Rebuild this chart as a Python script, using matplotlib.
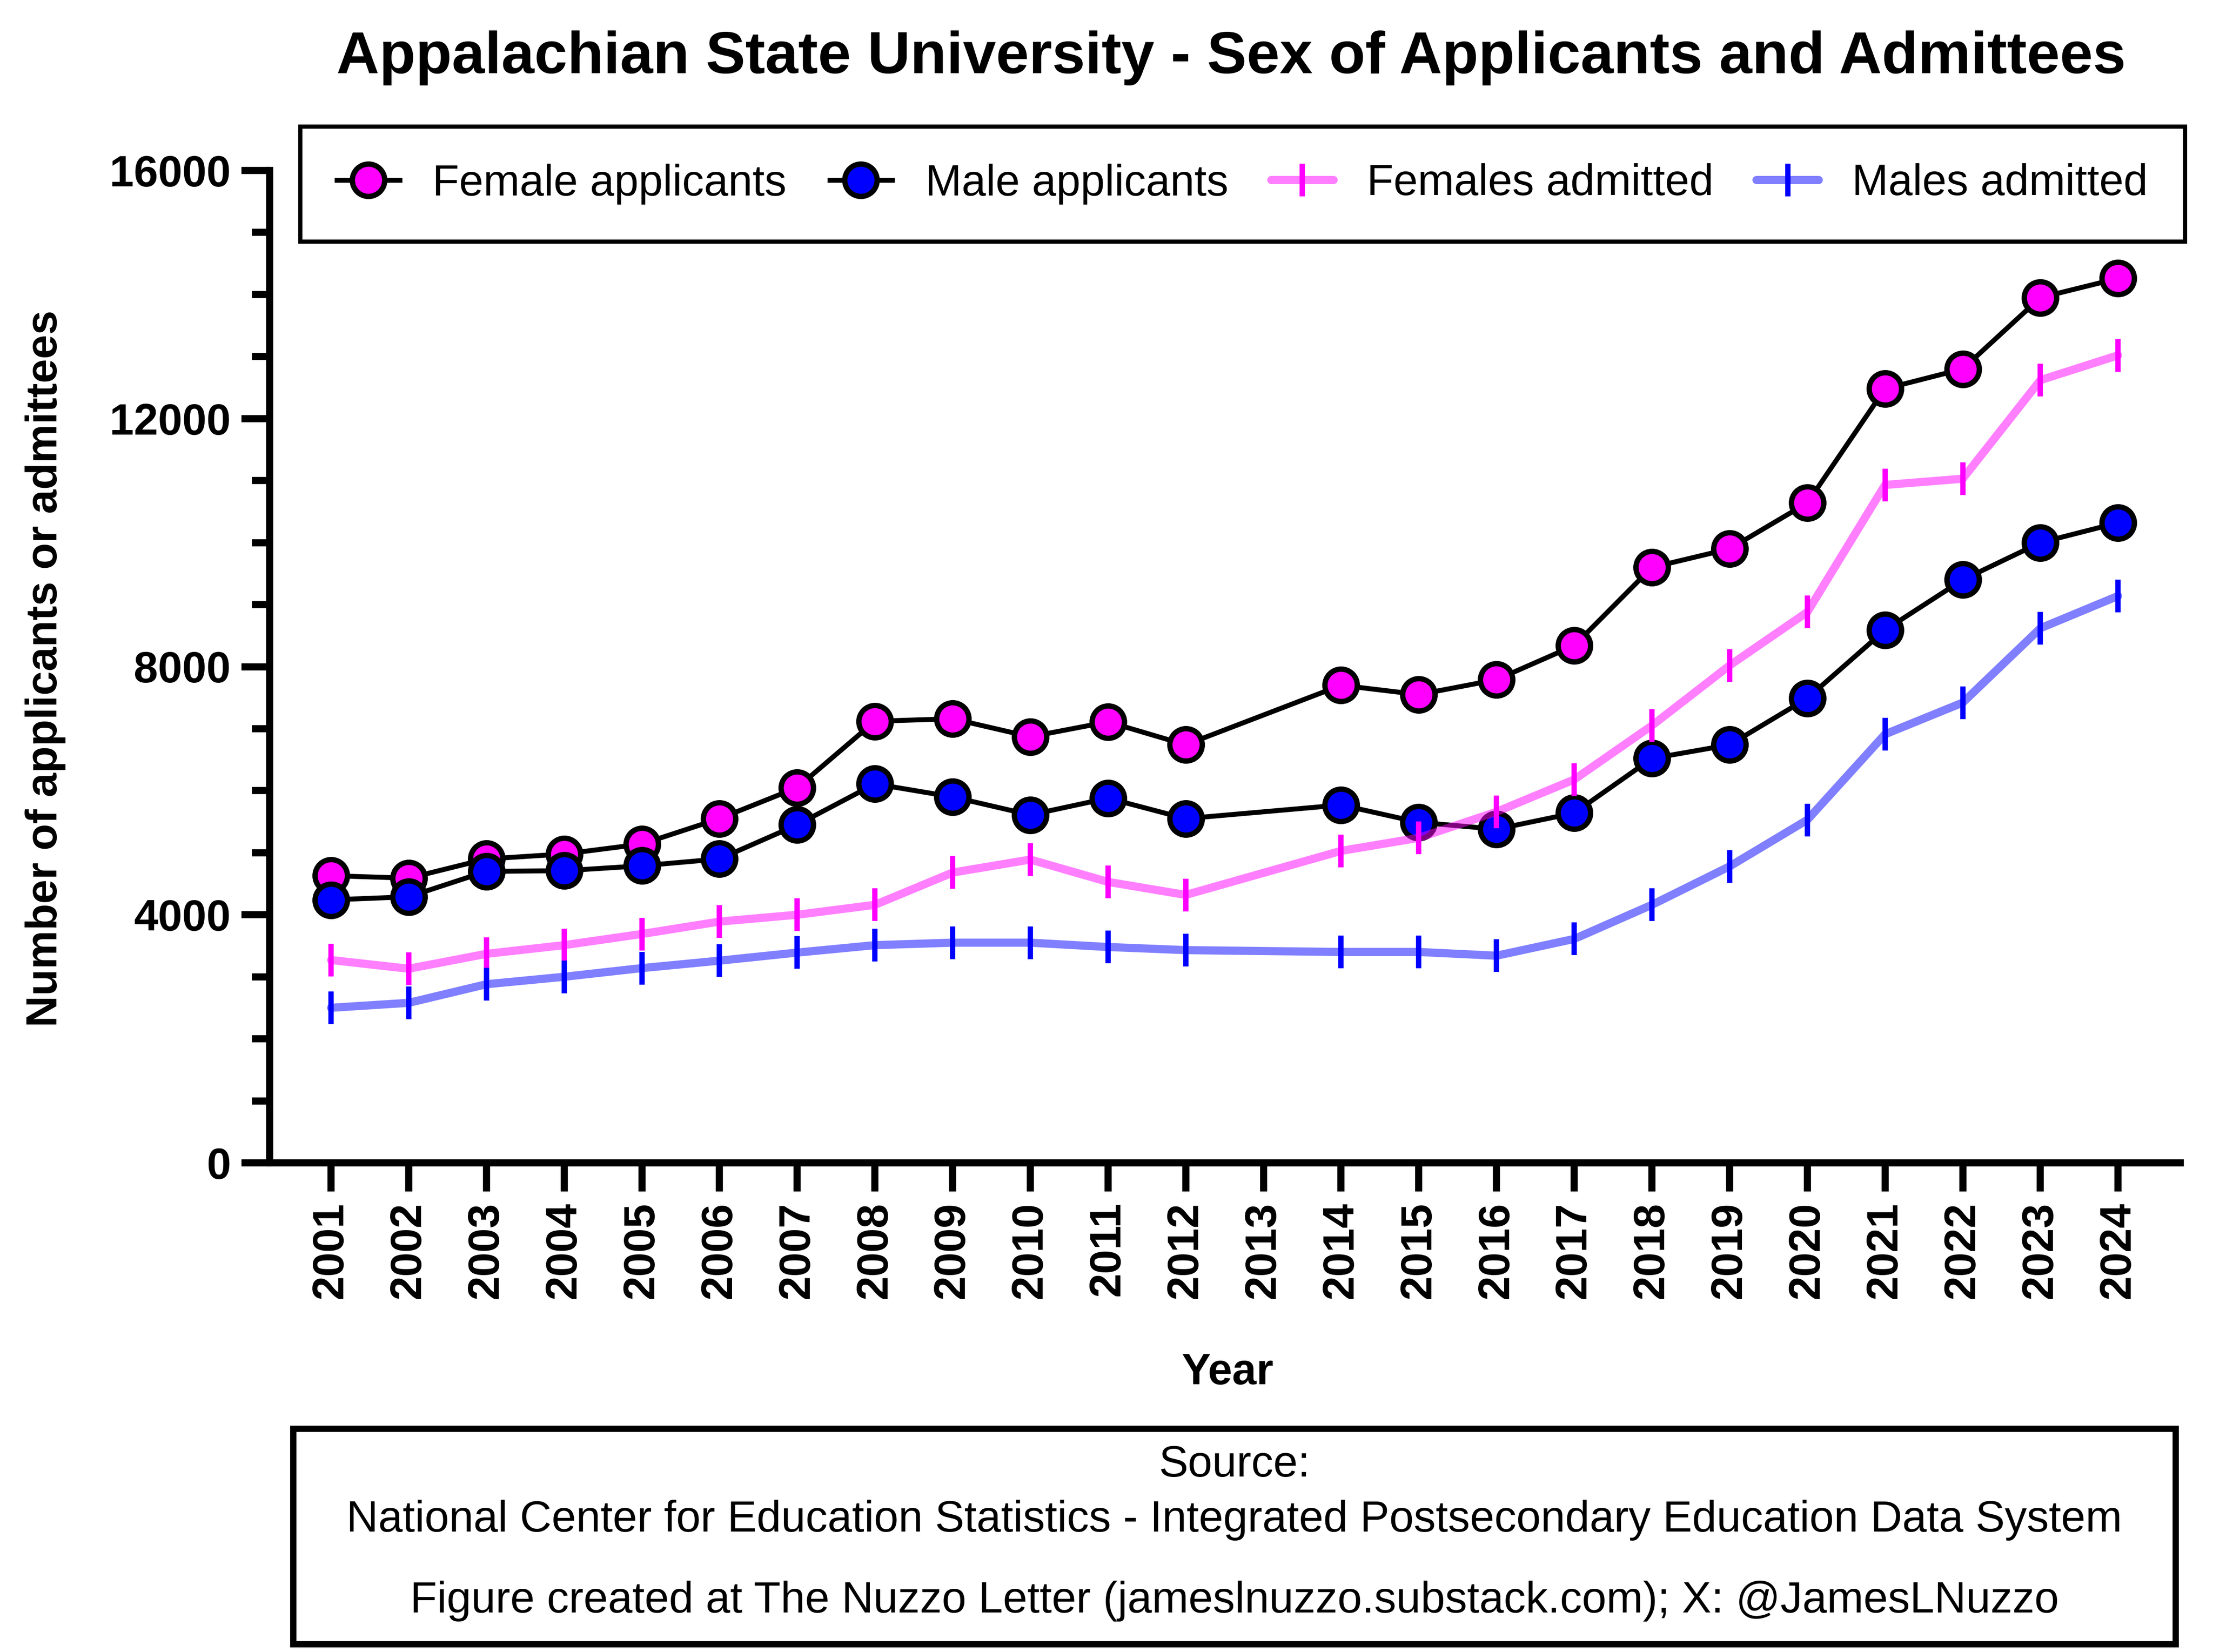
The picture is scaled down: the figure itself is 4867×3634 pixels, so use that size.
import matplotlib
matplotlib.use("Agg")
import matplotlib.pyplot as plt
from matplotlib.ticker import FixedLocator, MultipleLocator
from matplotlib.patches import Rectangle

plt.rcParams['font.family'] = ['Liberation Sans', 'DejaVu Sans']

# ---------------- data ----------------
year_labels = [str(y) for y in range(2001, 2025)]
data_years = [2001, 2002, 2003, 2004, 2005, 2006, 2007, 2008, 2009, 2010, 2011, 2012,
              2014, 2015, 2016, 2017, 2018, 2019, 2020, 2021, 2022, 2023, 2024]
female_applicants = [4630, 4590, 4900, 4980, 5140, 5550, 6050, 7120, 7160, 6870, 7110, 6740,
                     7700, 7550, 7790, 8340, 9600, 9900, 10640, 12480, 12800, 13950, 14260]
male_applicants = [4240, 4290, 4700, 4710, 4790, 4900, 5450, 6110, 5900, 5610, 5880, 5550,
                   5770, 5490, 5380, 5640, 6520, 6740, 7490, 8590, 9400, 10000, 10320]
females_admitted = [3270, 3130, 3370, 3510, 3690, 3890, 4000, 4160, 4680, 4890, 4530, 4320,
                    5030, 5240, 5660, 6180, 7050, 8020, 8880, 10930, 11030, 12620, 13020]
males_admitted = [2500, 2580, 2880, 3000, 3140, 3260, 3390, 3510, 3550, 3550, 3480, 3430,
                  3400, 3400, 3340, 3610, 4160, 4780, 5530, 6910, 7420, 8620, 9140]
y_major_ticks = [0, 4000, 8000, 12000, 16000]
series_labels = ["Female applicants", "Male applicants", "Females admitted", "Males admitted"]

title = "Appalachian State University - Sex of Applicants and Admittees"
source_lines = ["Source:",
                "National Center for Education Statistics - Integrated Postsecondary Education Data System",
                "Figure created at The Nuzzo Letter (jameslnuzzo.substack.com); X: @JamesLNuzzo"]

# ---------------- figure ----------------
W, H, DPI = 4867, 3634, 300
fig = plt.figure(figsize=(W / DPI, H / DPI), dpi=DPI)
fig.patch.set_facecolor('white')


def fx(px):
    return px / W


def fy(py):
    return 1 - py / H


ax = fig.add_axes([fx(593), fy(2558), fx(4795) - fx(593), fy(375) - fy(2558)])
x = [year_labels.index(str(y)) for y in data_years]

MAG = '#FF00FF'
BLU = '#0000FF'

h1, = ax.plot(x, female_applicants, color='black', lw=2.6, marker='o', ms=17.1,
              mfc=MAG, mec='black', mew=2.8, zorder=3, clip_on=False)
h2, = ax.plot(x, male_applicants, color='black', lw=2.6, marker='o', ms=17.1,
              mfc=BLU, mec='black', mew=2.8, zorder=3, clip_on=False)
l3, = ax.plot(x, females_admitted, color=MAG, alpha=0.5, lw=4.3, zorder=4,
              solid_capstyle='round', solid_joinstyle='round')
m3, = ax.plot(x, females_admitted, ls='none', marker='|', ms=17.4, mew=2.8, color=MAG, zorder=4)
l4, = ax.plot(x, males_admitted, color=BLU, alpha=0.5, lw=4.3, zorder=4,
              solid_capstyle='round', solid_joinstyle='round')
m4, = ax.plot(x, males_admitted, ls='none', marker='|', ms=17.4, mew=2.8, color=BLU, zorder=4)

ax.set_xlim(-0.79, 23.8)
ax.set_ylim(0, 16000)
for s in ['top', 'right']:
    ax.spines[s].set_visible(False)
for s in ['left', 'bottom']:
    ax.spines[s].set_linewidth(3.75)

ax.set_xticks(range(len(year_labels)))
ax.set_xticklabels(year_labels, rotation=90, fontweight='bold', fontsize=23)
ax.yaxis.set_major_locator(FixedLocator(y_major_ticks))
ax.yaxis.set_minor_locator(MultipleLocator(1000))
ax.set_yticklabels([str(v) for v in y_major_ticks], fontweight='bold', fontsize=23)
ax.tick_params(which='major', length=15, width=3.75, pad=5.5)
ax.tick_params(axis='y', which='minor', length=9.4, width=3.75)
ax.tick_params(axis='x', which='minor', bottom=False)

# ---------------- legend ----------------
leg = fig.legend([h1, h2, (l3, m3), (l4, m4)], series_labels, loc='center',
                 bbox_to_anchor=(fx(660), fy(530), fx(4805) - fx(660), fy(279) - fy(530)),
                 mode='expand', ncol=4, fontsize=23, frameon=True, fancybox=False,
                 edgecolor='black', framealpha=1, borderaxespad=0, borderpad=0.85,
                 handlelength=1.43, handletextpad=0.76)
leg.get_frame().set_linewidth(2.2)

# ---------------- texts ----------------
fig.text(fx(2708), fy(161), title, ha='center', va='baseline', fontsize=31.3, fontweight='bold')
fig.text(fx(100), fy(1471), "Number of applicants or admittees", rotation=90,
         ha='center', va='center', fontsize=23, fontweight='bold')
fig.text(fx(2700), fy(3045), "Year", ha='center', va='baseline', fontsize=23, fontweight='bold')

fig.add_artist(Rectangle((fx(645), fy(3617)), fx(4785) - fx(645), fy(3143) - fy(3617),
                         transform=fig.transFigure, fill=False, edgecolor='black', linewidth=3.3))
for txt, base in zip(source_lines, [3248, 3369, 3547]):
    fig.text(fx(2715), fy(base), txt, ha='center', va='baseline', fontsize=23.2)

fig.savefig('out.png', dpi=DPI)
